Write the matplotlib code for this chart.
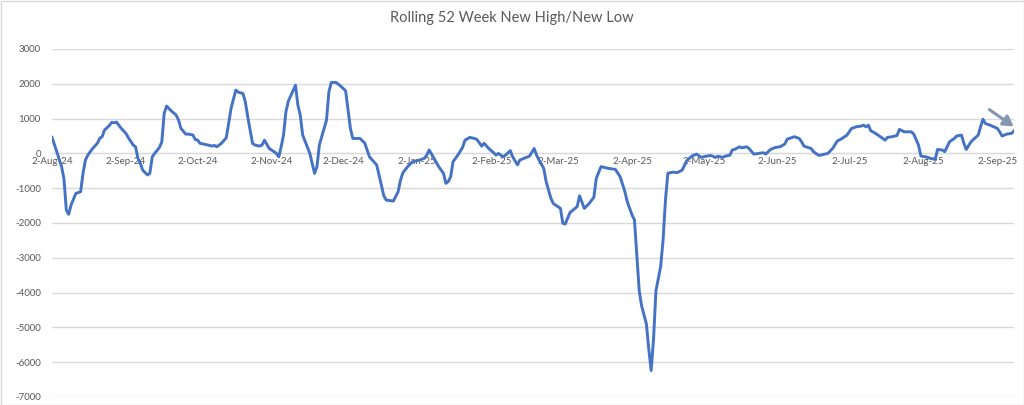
"""Rolling 52 week new high / new low line chart (Excel style)."""
import matplotlib
matplotlib.use("Agg")
import matplotlib.pyplot as plt
import pandas as pd
from matplotlib.patches import Rectangle

TITLE = "Rolling 52 Week New High/New Low"

DATES = [
    "2024-08-02", "2024-08-04", "2024-08-06", "2024-08-07", "2024-08-08", "2024-08-09",
    "2024-08-10", "2024-08-12", "2024-08-14", "2024-08-15", "2024-08-16", "2024-08-17",
    "2024-08-19", "2024-08-21", "2024-08-22", "2024-08-23", "2024-08-24", "2024-08-26",
    "2024-08-27", "2024-08-28", "2024-08-29", "2024-08-31", "2024-09-02", "2024-09-03",
    "2024-09-05", "2024-09-06", "2024-09-07", "2024-09-08", "2024-09-09", "2024-09-11",
    "2024-09-12", "2024-09-13", "2024-09-14", "2024-09-16", "2024-09-17", "2024-09-18",
    "2024-09-19", "2024-09-21", "2024-09-23", "2024-09-24", "2024-09-25", "2024-09-27",
    "2024-09-28", "2024-09-30", "2024-10-01", "2024-10-02", "2024-10-03", "2024-10-05",
    "2024-10-07", "2024-10-08", "2024-10-09", "2024-10-10", "2024-10-12", "2024-10-14",
    "2024-10-15", "2024-10-16", "2024-10-18", "2024-10-19", "2024-10-21", "2024-10-22",
    "2024-10-23", "2024-10-25", "2024-10-26", "2024-10-28", "2024-10-29", "2024-10-30",
    "2024-11-01", "2024-11-03", "2024-11-04", "2024-11-05", "2024-11-06", "2024-11-07",
    "2024-11-08", "2024-11-09", "2024-11-12", "2024-11-13", "2024-11-14", "2024-11-15",
    "2024-11-18", "2024-11-20", "2024-11-21", "2024-11-22", "2024-11-25", "2024-11-26",
    "2024-11-27", "2024-11-29", "2024-12-01", "2024-12-03", "2024-12-05", "2024-12-06",
    "2024-12-09", "2024-12-11", "2024-12-12", "2024-12-13", "2024-12-16", "2024-12-17",
    "2024-12-19", "2024-12-20", "2024-12-23", "2024-12-25", "2024-12-26", "2024-12-27",
    "2024-12-29", "2024-12-31", "2025-01-03", "2025-01-05", "2025-01-06", "2025-01-07",
    "2025-01-09", "2025-01-11", "2025-01-13", "2025-01-14", "2025-01-15", "2025-01-16",
    "2025-01-17", "2025-01-19", "2025-01-21", "2025-01-22", "2025-01-24", "2025-01-26",
    "2025-01-27", "2025-01-29", "2025-01-30", "2025-02-01", "2025-02-03", "2025-02-04",
    "2025-02-05", "2025-02-07", "2025-02-08", "2025-02-10", "2025-02-11", "2025-02-13",
    "2025-02-14", "2025-02-18", "2025-02-20", "2025-02-21", "2025-02-22", "2025-02-24",
    "2025-02-25", "2025-02-27", "2025-02-28", "2025-03-03", "2025-03-04", "2025-03-05",
    "2025-03-07", "2025-03-10", "2025-03-11", "2025-03-13", "2025-03-15", "2025-03-17",
    "2025-03-18", "2025-03-20", "2025-03-23", "2025-03-26", "2025-03-28", "2025-03-30",
    "2025-03-31", "2025-04-02", "2025-04-03", "2025-04-04", "2025-04-05", "2025-04-06",
    "2025-04-08", "2025-04-09", "2025-04-10", "2025-04-11", "2025-04-12", "2025-04-14",
    "2025-04-15", "2025-04-16", "2025-04-17", "2025-04-19", "2025-04-21", "2025-04-23",
    "2025-04-25", "2025-04-27", "2025-04-29", "2025-05-01", "2025-05-03", "2025-05-05",
    "2025-05-07", "2025-05-08", "2025-05-10", "2025-05-11", "2025-05-13", "2025-05-14",
    "2025-05-15", "2025-05-17", "2025-05-18", "2025-05-20", "2025-05-21", "2025-05-23",
    "2025-05-25", "2025-05-27", "2025-05-28", "2025-05-30", "2025-06-01", "2025-06-03",
    "2025-06-05", "2025-06-06", "2025-06-09", "2025-06-11", "2025-06-12", "2025-06-13",
    "2025-06-16", "2025-06-17", "2025-06-19", "2025-06-20", "2025-06-23", "2025-06-25",
    "2025-06-27", "2025-06-29", "2025-07-01", "2025-07-03", "2025-07-05", "2025-07-07",
    "2025-07-08", "2025-07-09", "2025-07-10", "2025-07-11", "2025-07-13", "2025-07-15",
    "2025-07-17", "2025-07-18", "2025-07-20", "2025-07-22", "2025-07-23", "2025-07-25",
    "2025-07-28", "2025-07-29", "2025-07-31", "2025-08-01", "2025-08-04", "2025-08-05",
    "2025-08-07", "2025-08-08", "2025-08-10", "2025-08-11", "2025-08-13", "2025-08-15",
    "2025-08-16", "2025-08-18", "2025-08-19", "2025-08-20", "2025-08-22", "2025-08-23",
    "2025-08-25", "2025-08-26", "2025-08-27", "2025-08-28", "2025-08-30", "2025-09-02",
    "2025-09-03", "2025-09-04", "2025-09-06", "2025-09-08", "2025-09-09",
]

NET_HIGHS_LOWS = [
    460, 50, -380, -720, -1630, -1750,
    -1480, -1150, -1100, -570, -190, -50,
    140, 290, 430, 480, 670, 800,
    890, 880, 900, 720, 570, 450,
    240, 190, -140, -290, -480, -620,
    -570, -100, 0, 170, 330, 1150,
    1360, 1220, 1100, 960, 720, 555,
    555, 530, 400, 380, 290, 260,
    230, 210, 230, 190, 290, 450,
    860, 1290, 1820, 1760, 1720, 1480,
    1050, 290, 240, 210, 240, 380,
    140, 50, 0, -100, 190, 530,
    1200, 1500, 1960, 1390, 1100, 530,
    0, -575, -380, 240, 960, 1770,
    2040, 2040, 1930, 1800, 720, 430,
    430, 300, 100, -100, -330, -620,
    -1220, -1340, -1370, -1100, -770, -555,
    -380, -240, -190, -140, -50, 100,
    -140, -380, -575, -860, -810, -670,
    -240, -50, 170, 380, 460, 430,
    400, 210, 290, 140, 20, -50,
    0, -100, -50, 80, -100, -330,
    -190, -80, 140, -50, -190, -430,
    -810, -1290, -1440, -1580, -2010, -2030,
    -1700, -1530, -1220, -1580, -1440, -1260,
    -720, -380, -430, -460, -670, -1100,
    -1390, -1770, -1910, -2950, -3950, -4380,
    -4900, -5620, -6240, -5330, -3950, -3240,
    -2480, -1330, -570, -540, -550, -480,
    -200, -80, -20, -115, -80, -60,
    -115, -80, -115, -80, -50, 100,
    115, 190, 160, 190, 140, -20,
    0, 20, -20, 115, 170, 190,
    270, 410, 480, 430, 335, 210,
    140, 50, -50, -50, 0, 140,
    355, 430, 525, 720, 765, 785,
    810, 765, 810, 650, 575, 480,
    380, 460, 480, 515, 690, 620,
    620, 555, 240, -75, -115, -145,
    -170, 115, 95, 50, 335, 430,
    500, 525, 290, 115, 335, 400,
    525, 765, 985, 860, 810, 720,
    620, 500, 555, 575, 650,
]

TICK_LABELS = [
    "2-Aug-24", "2-Sep-24", "2-Oct-24", "2-Nov-24", "2-Dec-24", "2-Jan-25", "2-Feb-25",
    "2-Mar-25", "2-Apr-25", "2-May-25", "2-Jun-25", "2-Jul-25", "2-Aug-25", "2-Sep-25",
]
Y_TICKS = list(range(-7000, 3001, 1000))

LINE_COLOR = "#4472C4"
GRID_COLOR = "#D9D9D9"
TEXT_COLOR = "#595959"
ARROW_COLOR = "#8497B0"

plt.rcParams["font.family"] = ["Lato", "DejaVu Sans"]

W, H = 1024, 405
fig = plt.figure(figsize=(W / 100, H / 100), dpi=100)
ax = fig.add_axes([52 / W, 8 / H, 962 / W, 348 / H])

dates = pd.to_datetime(DATES)
ax.plot(dates, NET_HIGHS_LOWS, color=LINE_COLOR, lw=2.1, solid_joinstyle="round", zorder=3)

ax.set_ylim(-7000, 3000)
ax.set_yticks(Y_TICKS)
ax.set_yticklabels([str(v) for v in Y_TICKS])
ax.set_xlim(dates[0], dates[-1])
tick_dates = pd.to_datetime(TICK_LABELS, format="%d-%b-%y")
ax.set_xticks(tick_dates)
ax.set_xticklabels(TICK_LABELS)

ax.grid(axis="y", color=GRID_COLOR, lw=1.0)
for side in ("top", "right", "left"):
    ax.spines[side].set_visible(False)
ax.spines["bottom"].set_position(("data", 0))
ax.spines["bottom"].set_color(GRID_COLOR)
ax.tick_params(axis="x", length=0, pad=2.5, labelsize=7, labelcolor=TEXT_COLOR)
ax.tick_params(axis="y", length=0, pad=8, labelsize=7, labelcolor=TEXT_COLOR)

fig.text(0.5, 1 - 18 / H, TITLE, ha="center", va="center", fontsize=10.5, color=TEXT_COLOR)

# trend arrow near the latest reading
ax.annotate(
    "", xy=(1016, H - 128), xytext=(987, H - 108),
    xycoords="figure pixels", textcoords="figure pixels",
    arrowprops=dict(arrowstyle="-|>,head_length=0.6,head_width=0.35",
                    color=ARROW_COLOR, lw=2.2),
    annotation_clip=False,
)

fig.patches.append(Rectangle((0.5 / W, 0.5 / H), 1 - 1 / W, 1 - 1 / H,
                             transform=fig.transFigure, fill=False,
                             edgecolor=GRID_COLOR, lw=1.0))

fig.savefig("out.png", dpi=100)
